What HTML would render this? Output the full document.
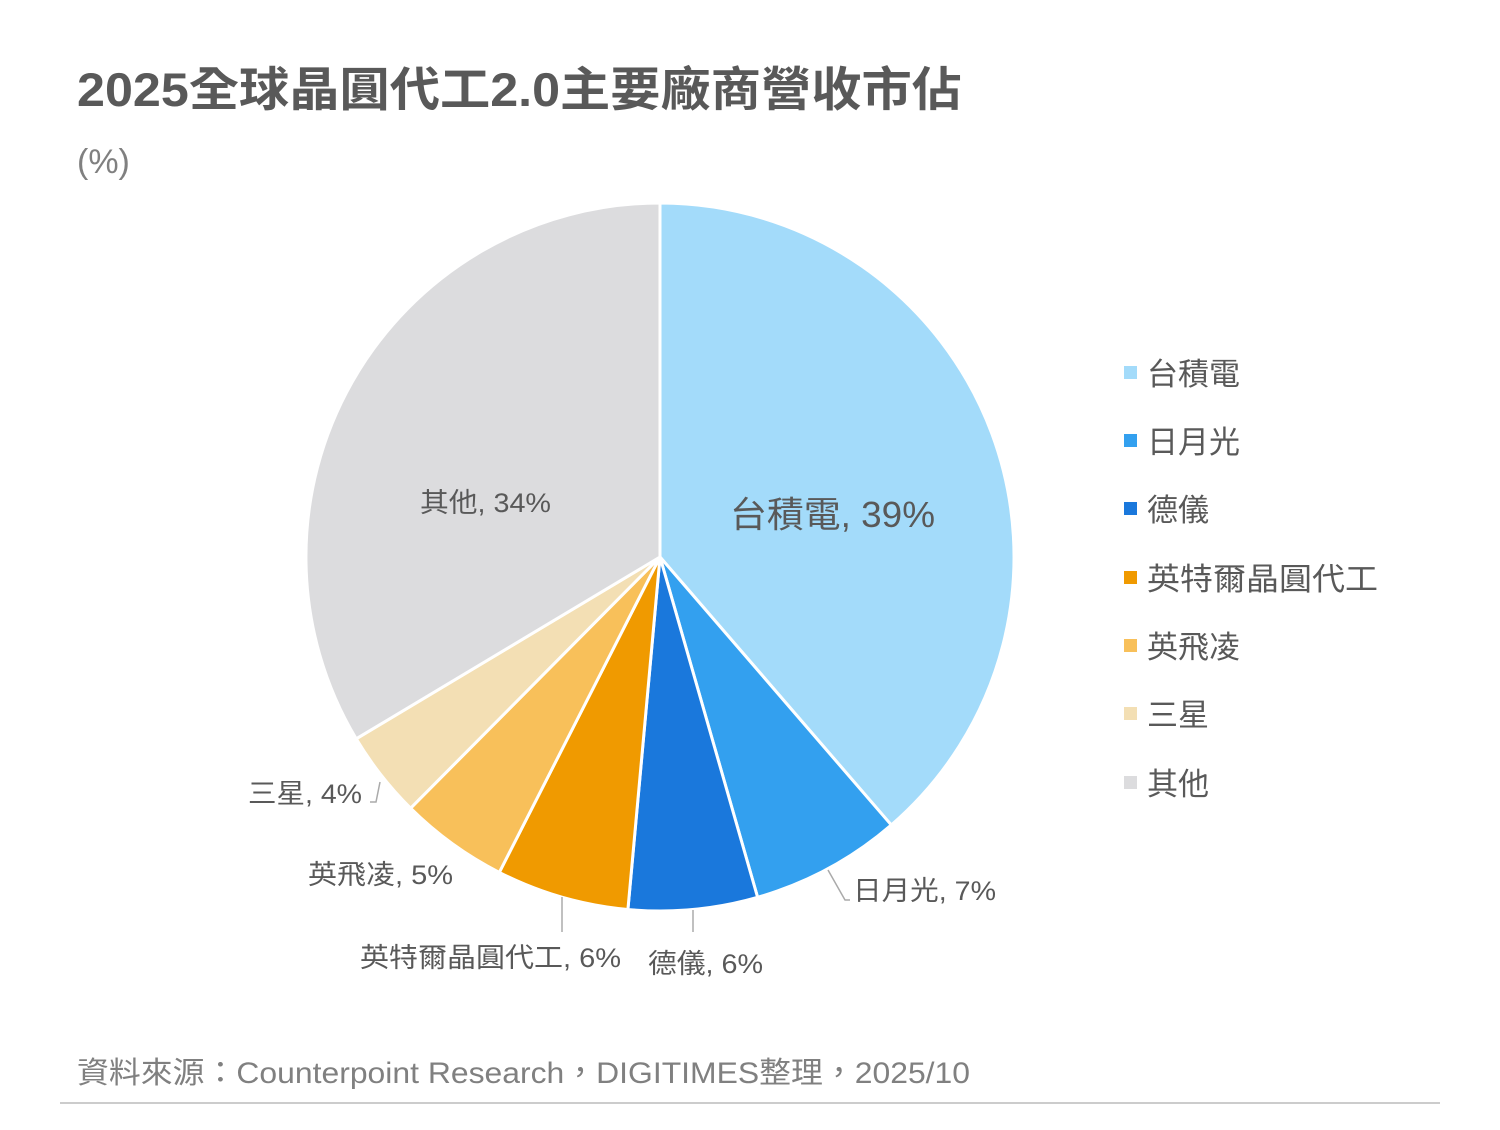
<!DOCTYPE html>
<html><head><meta charset="utf-8"><style>
body{margin:0;background:#fff;}
svg text{font-family:"Liberation Sans","Noto Sans CJK TC",sans-serif;}
</style></head><body>
<svg width="1500" height="1125" viewBox="0 0 1500 1125" xmlns="http://www.w3.org/2000/svg">
<rect width="1500" height="1125" fill="#fff"/>
<text x="77" y="106" font-size="47" font-weight="bold" fill="#595959" textLength="885" lengthAdjust="spacingAndGlyphs">2025全球晶圓代工2.0主要廠商營收市佔</text>
<text x="77" y="173" font-size="34" fill="#808080">(%)</text>
<g stroke="#fff" stroke-width="3" stroke-linejoin="round">
<path d="M660,557 L660,203 A354,354 0 0 1 891.3,825 Z" fill="#a3dbfa"/>
<path d="M660,557 L891.3,825 A354,354 0 0 1 757.6,897.3 Z" fill="#33a0ef"/>
<path d="M660,557 L757.6,897.3 A354,354 0 0 1 627.9,909.5 Z" fill="#1a78dc"/>
<path d="M660,557 L627.9,909.5 A354,354 0 0 1 499.3,872.4 Z" fill="#f09a00"/>
<path d="M660,557 L499.3,872.4 A354,354 0 0 1 410.6,808.2 Z" fill="#f8c05a"/>
<path d="M660,557 L410.6,808.2 A354,354 0 0 1 356.2,738.8 Z" fill="#f3dfb4"/>
<path d="M660,557 L356.2,738.8 A354,354 0 0 1 660,203 Z" fill="#dcdcde"/>
</g>
<g stroke="#aaa" stroke-width="1.5" fill="none">
<path d="M828,870 L845,900 L850,900"/>
<path d="M693,910 L693,932"/>
<path d="M562,897 L562,932"/>
<path d="M380,782 L376,802 L370,802"/>
</g>
<g fill="#595959">
<text x="730" y="527" font-size="36" textLength="205" lengthAdjust="spacingAndGlyphs">台積電, 39%</text>
<text x="420" y="512" font-size="27" textLength="131" lengthAdjust="spacingAndGlyphs">其他, 34%</text>
<text x="853" y="900" font-size="27" textLength="143" lengthAdjust="spacingAndGlyphs">日月光, 7%</text>
<text x="648" y="973" font-size="27" textLength="115" lengthAdjust="spacingAndGlyphs">德儀, 6%</text>
<text x="360" y="967" font-size="27" textLength="261" lengthAdjust="spacingAndGlyphs">英特爾晶圓代工, 6%</text>
<text x="308" y="884" font-size="27" textLength="145" lengthAdjust="spacingAndGlyphs">英飛凌, 5%</text>
<text x="248" y="803" font-size="27" textLength="114" lengthAdjust="spacingAndGlyphs">三星, 4%</text>
</g>
<g font-size="31" fill="#595959">
<rect x="1124" y="366" width="13" height="13" fill="#a3dbfa"/><text x="1147" y="385">台積電</text>
<rect x="1124" y="434" width="13" height="13" fill="#33a0ef"/><text x="1147" y="453">日月光</text>
<rect x="1124" y="502" width="13" height="13" fill="#1a78dc"/><text x="1147" y="521">德儀</text>
<rect x="1124" y="571" width="13" height="13" fill="#f09a00"/><text x="1147" y="590" textLength="231" lengthAdjust="spacingAndGlyphs">英特爾晶圓代工</text>
<rect x="1124" y="639" width="13" height="13" fill="#f8c05a"/><text x="1147" y="658">英飛凌</text>
<rect x="1124" y="707" width="13" height="13" fill="#f3dfb4"/><text x="1147" y="726">三星</text>
<rect x="1124" y="776" width="13" height="13" fill="#dcdcde"/><text x="1147" y="795">其他</text>
</g>
<text x="77" y="1083" font-size="30" fill="#808080" textLength="893" lengthAdjust="spacingAndGlyphs">資料來源：Counterpoint Research，DIGITIMES整理，2025/10</text>
<line x1="60" y1="1103" x2="1440" y2="1103" stroke="#bbb" stroke-width="1.5"/>
</svg>
</body></html>
